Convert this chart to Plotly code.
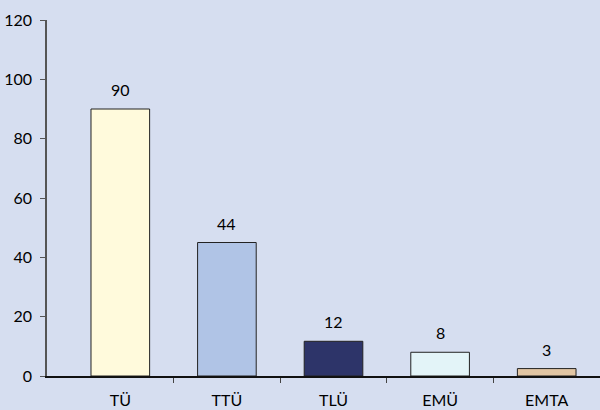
import plotly.graph_objects as go

categories = ["TÜ", "TTÜ", "TLÜ", "EMÜ", "EMTA"]
bar_values = [90, 45, 11.7, 8, 2.5]
label_values = [90, 44, 12, 8, 3]
bar_colors = ["#FFFADC", "#B0C4E6", "#2D3469", "#E3F4F8", "#E2C6A4"]
y_ticks = [0, 20, 40, 60, 80, 100, 120]

FONT = "Lato, 'Open Sans', sans-serif"
BG = "#D6DEF0"

positions = list(range(len(categories)))
boundaries = [p + 0.5 for p in positions]

fig = go.Figure()
fig.add_trace(go.Bar(
    x=positions, y=bar_values,
    marker=dict(color=bar_colors, line=dict(color="#222222", width=1)),
    width=0.55, hoverinfo="skip",
))

for p, v, lab in zip(positions, bar_values, label_values):
    fig.add_annotation(x=p, y=v, text=str(lab), showarrow=False,
                       yanchor="bottom", yshift=8,
                       font=dict(family=FONT, size=16, color="#000000"))

xr = [-0.5 - 20 / 106.6, 4.5]
fig.update_layout(
    width=600, height=410,
    margin=dict(l=47, r=0, t=20, b=34, autoexpand=False),
    paper_bgcolor=BG, plot_bgcolor=BG,
    showlegend=False,
    font=dict(family=FONT, size=16, color="#000000"),
    xaxis=dict(range=xr, showgrid=False, zeroline=False, showline=True,
               linecolor="#111111", linewidth=1.5,
               tickmode="array", tickvals=positions, ticktext=categories,
               ticks="", ticklabelstandoff=9, tickfont=dict(size=16),
               automargin=False,
               minor=dict(tickmode="array", tickvals=boundaries,
                          ticks="outside", ticklen=5, tickcolor="#444444",
                          tickwidth=1.2, showgrid=False)),
    yaxis=dict(range=[0, 120], tickvals=y_ticks, showgrid=False,
               zeroline=False, showline=True, linecolor="#555555",
               linewidth=1.5, ticks="outside", ticklen=5,
               tickcolor="#555555", ticklabelstandoff=5,
               tickfont=dict(size=16), automargin=False),
)

fig.write_html("out.html", config={"displayModeBar": False},
               post_script="document.body.style.margin='0';")
